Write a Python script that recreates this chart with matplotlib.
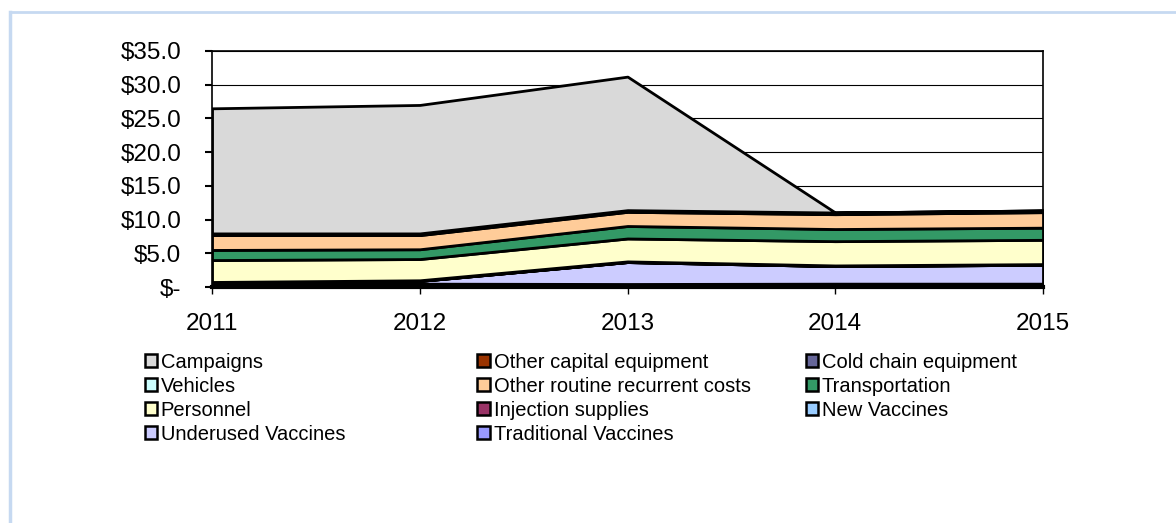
import matplotlib
matplotlib.use("Agg")
import matplotlib.pyplot as plt
from matplotlib.patches import Patch
from matplotlib.lines import Line2D
from matplotlib.ticker import FuncFormatter

plt.rcParams["font.family"] = ["Liberation Sans", "DejaVu Sans"]

years = [2011, 2012, 2013, 2014, 2015]

# values in US$ millions, bottom of the stack first
traditional = [0.5, 0.5, 0.45, 0.5, 0.5]
underused = [0.15, 0.4, 3.25, 2.6, 2.8]
new_vaccines = [0.0, 0.0, 0.0, 0.0, 0.0]
injection = [0.1, 0.1, 0.1, 0.1, 0.1]
personnel = [3.25, 3.15, 3.4, 3.6, 3.6]
transportation = [1.5, 1.45, 1.85, 1.8, 1.8]
other_routine = [2.2, 2.1, 2.1, 2.2, 2.3]
vehicles = [0.1, 0.1, 0.1, 0.1, 0.1]
cold_chain = [0.1, 0.1, 0.1, 0.1, 0.1]
other_capital = [0.05, 0.05, 0.05, 0.05, 0.05]
campaigns = [18.55, 19.05, 19.8, 0.0, 0.0]

series = [
    ("Traditional Vaccines", traditional, "#9999FF"),
    ("Underused Vaccines", underused, "#CCCCFF"),
    ("New Vaccines", new_vaccines, "#99CCFF"),
    ("Injection supplies", injection, "#993366"),
    ("Personnel", personnel, "#FFFFCC"),
    ("Transportation", transportation, "#339966"),
    ("Other routine recurrent costs", other_routine, "#FFCC99"),
    ("Vehicles", vehicles, "#CCFFFF"),
    ("Cold chain equipment", cold_chain, "#666699"),
    ("Other capital equipment", other_capital, "#993300"),
    ("Campaigns", campaigns, "#D9D9D9"),
]

fig = plt.figure(figsize=(11.76, 5.23), dpi=100)
ax = fig.add_axes([0.1803, 0.4512, 0.7066, 0.4513])

ax.stackplot(
    years,
    [s[1] for s in series],
    colors=[s[2] for s in series],
    edgecolor="black",
    linewidth=2.0,
    zorder=3,
)

ax.set_xlim(2011, 2015)
ax.set_ylim(0, 35)
ax.set_xticks(years)
ax.set_yticks(range(0, 36, 5))
ax.yaxis.set_major_formatter(
    FuncFormatter(lambda v, p: "$-" if v == 0 else f"${v:.1f}")
)
ax.grid(axis="y", color="black", linewidth=0.8, zorder=1)
ax.tick_params(axis="y", direction="out", length=5, width=1.5, pad=17, labelsize=17.5)
ax.tick_params(axis="x", direction="out", length=5, width=1, pad=14, labelsize=17.5)
for sp in ax.spines.values():
    sp.set_linewidth(1.2)
ax.spines["bottom"].set_linewidth(3)
ax.spines["bottom"].set_zorder(5)

# legend laid out in three equal columns, entries in row order
lookup = {s[0]: s[2] for s in series}
columns = [
    ["Campaigns", "Vehicles", "Personnel", "Underused Vaccines"],
    ["Other capital equipment", "Other routine recurrent costs",
     "Injection supplies", "Traditional Vaccines"],
    ["Cold chain equipment", "Transportation", "New Vaccines"],
]
col_x = [0.123, 0.406, 0.685]
for names, x in zip(columns, col_x):
    handles = [Patch(facecolor=lookup[n], edgecolor="black", linewidth=1.8) for n in names]
    fig.legend(
        handles, names, loc="upper left", bbox_to_anchor=(x, 0.326),
        frameon=False, fontsize=14.5, handlelength=0.6, handleheight=0.6,
        handletextpad=0.2, labelspacing=0.25, borderaxespad=0, borderpad=0,
    )

# light blue frame edges
fig.add_artist(Line2D([0.0085, 0.0085], [0, 0.977], color="#C6D9F1", linewidth=2.5))
fig.add_artist(Line2D([0.0085, 1], [0.977, 0.977], color="#C6D9F1", linewidth=2))

fig.savefig("out.png", dpi=100)
